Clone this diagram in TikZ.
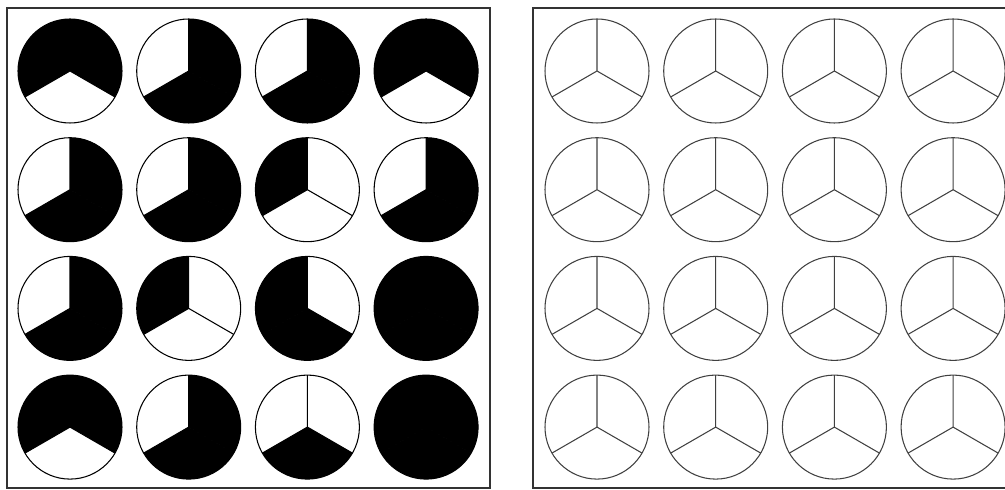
\documentclass[tikz,border=0pt]{standalone}
\usepackage{tikz}
\usetikzlibrary{calc}

\tikzset{
  panel/.style={draw=black!80, line width=1.1pt},
  rim/.style={draw=black!75, line width=0.6pt},
  darkrim/.style={rim, draw=black},
  shade/.style={fill=black},
}
\newcommand{\rad}{52}
\newcommand{\gap}{118.7}

\begin{document}
\begin{tikzpicture}[x=0.02cm, y=0.02cm]
    \useasboundingbox (0,0) rectangle (1005,490);
    \clip (0,0) rectangle (1005,490);

    % Frames
    \draw[panel] (7,2) rectangle (490,482);
    \draw[panel] (533,2) rectangle (1015,482);

    % Left panel: thirds given as top-left / top-right / bottom (1 = black)
    \foreach \codes [count=\row] in {{1/1/0,0/1/1,0/1/1,1/1/0},
                                     {0/1/1,0/1/1,1/0/0,0/1/1},
                                     {0/1/1,1/0/0,1/0/1,1/1/1},
                                     {1/1/0,0/1/1,0/0/1,1/1/1}}
        \foreach \tl/\tr/\bt [count=\col] in \codes {
            \coordinate (L\row\col) at ({70+(\col-1)*\gap},{419-(\row-1)*\gap});
            \ifnum\tl=1 \fill[shade] (L\row\col) -- ++(90:\rad) arc[start angle=90, end angle=210, radius=\rad] -- cycle; \fi
            \ifnum\tr=1 \fill[shade] (L\row\col) -- ++(-30:\rad) arc[start angle=-30, end angle=90, radius=\rad] -- cycle; \fi
            \ifnum\bt=1 \fill[shade] (L\row\col) -- ++(210:\rad) arc[start angle=210, end angle=330, radius=\rad] -- cycle; \fi
            \draw[darkrim] (L\row\col) circle[radius=\rad];
            \draw[darkrim] (L\row\col) -- ++(90:\rad) (L\row\col) -- ++(210:\rad) (L\row\col) -- ++(330:\rad);
        }

    % Right panel: empty thirds
    \foreach \row in {1,...,4}
        \foreach \col in {1,...,4} {
            \coordinate (R\row\col) at ({597+(\col-1)*\gap},{419-(\row-1)*\gap});
            \draw[rim] (R\row\col) circle[radius=\rad];
            \draw[rim] (R\row\col) -- ++(90:\rad) (R\row\col) -- ++(210:\rad) (R\row\col) -- ++(330:\rad);
        }
\end{tikzpicture}
\end{document}
